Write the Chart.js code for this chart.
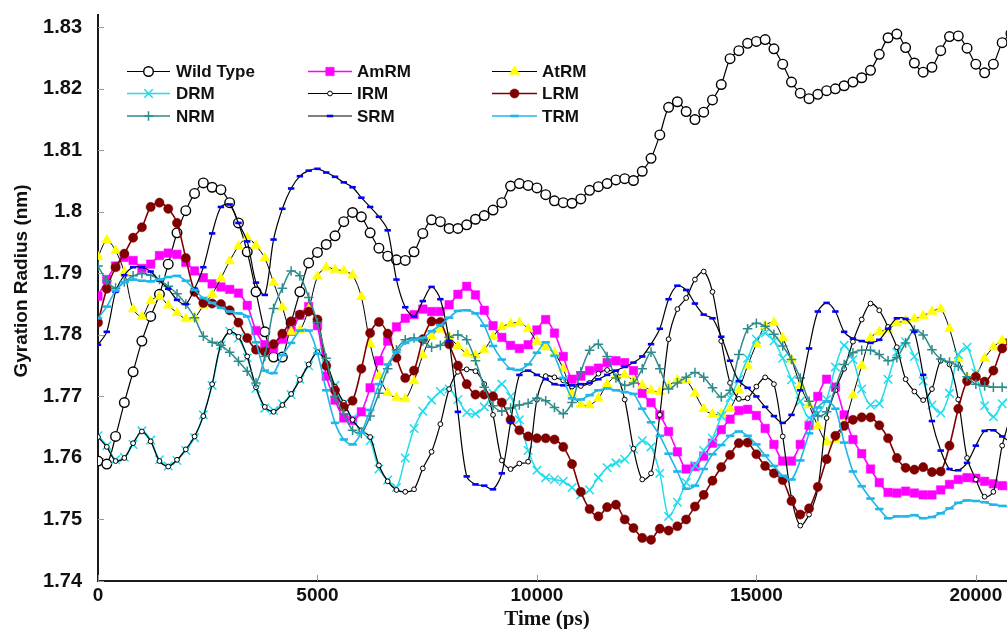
<!DOCTYPE html>
<html>
<head>
<meta charset="utf-8">
<script src="https://cdn.jsdelivr.net/npm/chart.js@4/dist/chart.umd.min.js"></script>
<style>
html,body{margin:0;padding:0;background:#fff;overflow:hidden;}
#wrap{position:relative;width:1007px;height:629px;}
</style>
</head>
<body>
<div id="wrap"><canvas id="c" width="1007" height="629"></canvas></div>
<script>
// ---------------- DATA ----------------
const timePs = [0,200,400,600,800,1000,1200,1400,1600,1800,2000,2200,2400,2600,2800,3000,3200,3400,3600,3800,
4000,4200,4400,4600,4800,5000,5200,5400,5600,5800,6000,6200,6400,6600,6800,7000,7200,7400,7600,7800,
8000,8200,8400,8600,8800,9000,9200,9400,9600,9800,10000,10200,10400,10600,10800,11000,11200,11400,11600,11800,
12000,12200,12400,12600,12800,13000,13200,13400,13600,13800,14000,14200,14400,14600,14800,15000,15200,15400,15600,15800,
16000,16200,16400,16600,16800,17000,17200,17400,17600,17800,18000,18200,18400,18600,18800,19000,19200,19400,19600,19800,
20000,20200,20400,20600,20800];

const seriesNames = ['Wild Type','AmRM','AtRM','DRM','IRM','LRM','NRM','SRM','TRM'];

const wildType = [1.7595,1.759,1.7635,1.769,1.774,1.779,1.783,1.7866,1.7915,1.7966,
1.8002,1.803,1.8047,1.804,1.8036,1.8015,1.7982,1.7935,1.787,1.7805,
1.7764,1.7764,1.782,1.787,1.7917,1.7934,1.7947,1.7961,1.7984,1.7999,
1.7992,1.7966,1.7941,1.7928,1.7922,1.7921,1.7935,1.7965,1.7987,1.7984,
1.7973,1.7973,1.7979,1.7988,1.7994,1.8003,1.8015,1.8042,1.8046,1.8043,
1.8039,1.8028,1.8018,1.8015,1.8014,1.8021,1.8035,1.8041,1.8046,1.8052,
1.8054,1.8051,1.8066,1.8087,1.8125,1.817,1.8179,1.8163,1.815,1.8162,
1.8182,1.8207,1.8249,1.8262,1.8274,1.8277,1.828,1.8265,1.824,1.8211,
1.8193,1.8184,1.8191,1.8197,1.82,1.8205,1.8211,1.8218,1.823,1.8256,
1.8283,1.8289,1.8267,1.8242,1.8227,1.8235,1.8262,1.8285,1.8286,1.8266,
1.824,1.8226,1.824,1.8275,1.829];

const amRM = [1.7863,1.789,1.7912,1.7926,1.7921,1.7908,1.7915,1.7929,1.7933,1.7931,
1.7918,1.7904,1.7893,1.7883,1.7878,1.7874,1.7868,1.7848,1.7807,1.7784,
1.7778,1.7793,1.7806,1.7832,1.7846,1.7815,1.7733,1.7694,1.7665,1.7661,
1.7675,1.7714,1.7758,1.779,1.7813,1.7827,1.7833,1.7842,1.7838,1.7838,
1.7849,1.7866,1.7879,1.7865,1.784,1.7815,1.7796,1.7783,1.7778,1.7784,
1.7808,1.7825,1.7803,1.7765,1.7728,1.7733,1.7742,1.7746,1.7755,1.7758,
1.7755,1.7742,1.7705,1.769,1.767,1.7643,1.761,1.7582,1.7586,1.7603,
1.7624,1.7646,1.7663,1.7677,1.7679,1.7669,1.7648,1.7622,1.7595,1.7595,
1.7622,1.7653,1.77,1.7728,1.7715,1.767,1.763,1.7607,1.7582,1.756,
1.7544,1.7543,1.7546,1.7543,1.754,1.754,1.7548,1.7557,1.7565,1.7568,
1.7567,1.7562,1.7558,1.7555,1.7554];

const atRM = [1.7927,1.7954,1.7937,1.7902,1.7842,1.783,1.7855,1.7862,1.7848,1.7836,
1.7826,1.7828,1.7848,1.7866,1.7892,1.792,1.7944,1.7958,1.7945,1.7925,
1.7885,1.7845,1.7805,1.7808,1.7842,1.7895,1.791,1.7906,1.7904,1.7897,
1.7862,1.7785,1.7734,1.7706,1.7698,1.7696,1.7725,1.7767,1.7798,1.7809,
1.7797,1.7782,1.777,1.7767,1.7776,1.7797,1.7813,1.7818,1.782,1.781,
1.7789,1.778,1.777,1.7745,1.7705,1.7687,1.7686,1.7697,1.772,1.7733,
1.7735,1.7726,1.7718,1.771,1.7708,1.7717,1.7727,1.7726,1.7705,1.768,
1.7671,1.7672,1.768,1.771,1.775,1.7785,1.7815,1.782,1.7795,1.776,
1.7718,1.7686,1.7652,1.7626,1.763,1.7655,1.7702,1.775,1.7795,1.7805,
1.7809,1.7819,1.7823,1.7826,1.7831,1.7838,1.7842,1.781,1.7761,1.7731,
1.7735,1.7762,1.778,1.7791,1.7795];

const dRM = [1.7636,1.762,1.7597,1.7601,1.7622,1.7644,1.7629,1.7597,1.7587,1.7596,
1.7612,1.7633,1.767,1.7718,1.7783,1.7806,1.7795,1.7763,1.7713,1.7681,
1.7677,1.7688,1.7703,1.7728,1.775,1.7773,1.7752,1.7718,1.7688,1.7664,
1.7643,1.7628,1.7582,1.7564,1.7552,1.76,1.7648,1.7676,1.7694,1.7708,
1.7712,1.7695,1.7674,1.7672,1.7683,1.7705,1.772,1.77,1.7662,1.7612,
1.758,1.7568,1.7565,1.7562,1.7552,1.754,1.7548,1.7568,1.7584,1.7592,
1.7598,1.7614,1.7628,1.7618,1.7575,1.7505,1.7528,1.756,1.7588,1.7612,
1.7632,1.7668,1.7698,1.7728,1.7762,1.7793,1.7803,1.779,1.7762,1.7727,
1.7692,1.7665,1.7672,1.7695,1.7748,1.7783,1.776,1.7712,1.7686,1.7688,
1.7728,1.7772,1.7789,1.7765,1.7725,1.7686,1.7673,1.7705,1.7768,1.778,
1.7738,1.7685,1.7667,1.7688,1.7702];

const iRM = [1.7634,1.7618,1.7595,1.76,1.7624,1.7643,1.7627,1.7595,1.7586,1.7597,
1.7614,1.7635,1.7668,1.772,1.7785,1.7805,1.7797,1.7765,1.7715,1.7683,
1.7675,1.7686,1.7704,1.7727,1.7752,1.7772,1.7755,1.7716,1.769,1.7662,
1.7645,1.7634,1.7588,1.7562,1.7548,1.7545,1.7549,1.7583,1.761,1.7655,
1.7712,1.774,1.7744,1.7741,1.772,1.767,1.7596,1.7582,1.7591,1.7594,
1.7695,1.7733,1.7731,1.7726,1.7716,1.7717,1.7722,1.7737,1.7743,1.7737,
1.7695,1.7615,1.7565,1.7575,1.767,1.7793,1.7842,1.786,1.789,1.7903,
1.787,1.779,1.7722,1.7696,1.7697,1.7716,1.7731,1.772,1.7635,1.7535,
1.749,1.7508,1.755,1.7665,1.771,1.7745,1.7789,1.7825,1.7851,1.784,
1.7813,1.778,1.7728,1.7708,1.7694,1.7712,1.7758,1.7752,1.7695,1.76,
1.7565,1.7537,1.7545,1.762,1.767];

const lRM = [1.782,1.7875,1.791,1.7932,1.7958,1.7975,1.8008,1.8015,1.8005,1.7982,
1.7925,1.787,1.7852,1.7851,1.785,1.784,1.782,1.7795,1.7776,1.7773,
1.7785,1.7802,1.7822,1.7833,1.7838,1.7825,1.775,1.771,1.7683,1.7693,
1.7745,1.7803,1.7821,1.7802,1.7763,1.773,1.7742,1.7793,1.7822,1.7821,
1.7785,1.775,1.772,1.7703,1.7703,1.77,1.769,1.7662,1.7645,1.7635,
1.7632,1.7632,1.763,1.7618,1.759,1.7545,1.7517,1.7505,1.752,1.7524,
1.75,1.7486,1.747,1.7467,1.7485,1.7482,1.7489,1.75,1.7521,1.754,
1.7563,1.7585,1.7605,1.7624,1.7625,1.7606,1.7587,1.7575,1.7564,1.753,
1.7508,1.7518,1.7553,1.7598,1.7636,1.7652,1.7662,1.7666,1.7666,1.7653,
1.7632,1.76,1.7584,1.7581,1.7585,1.7577,1.7578,1.762,1.768,1.7725,
1.7732,1.7724,1.7742,1.7778,1.779];

const nRM = [1.7912,1.7888,1.7876,1.7886,1.7896,1.79,1.7897,1.789,1.7879,1.7867,
1.785,1.7828,1.7798,1.7788,1.7783,1.7772,1.7757,1.7741,1.7722,1.7765,
1.7843,1.7876,1.7904,1.7896,1.7861,1.782,1.7762,1.77,1.7672,1.7645,
1.764,1.7668,1.7705,1.7745,1.7776,1.7792,1.7795,1.779,1.778,1.7783,
1.7796,1.78,1.7792,1.7758,1.7715,1.7685,1.7676,1.7681,1.7686,1.7689,
1.7697,1.7693,1.7682,1.7672,1.769,1.774,1.7775,1.7785,1.7765,1.773,
1.7718,1.7722,1.7745,1.7772,1.7745,1.7712,1.7722,1.7731,1.7739,1.7731,
1.7714,1.7699,1.771,1.7768,1.781,1.7819,1.7814,1.7801,1.7782,1.776,
1.773,1.7692,1.7668,1.7675,1.7715,1.7752,1.7771,1.7775,1.7775,1.7768,
1.7758,1.7763,1.7787,1.7808,1.78,1.7776,1.7761,1.7756,1.7749,1.7732,
1.772,1.7717,1.7715,1.7715,1.7714];

const sRM = [1.7784,1.7805,1.787,1.7897,1.791,1.791,1.7903,1.7888,1.7875,1.7857,
1.785,1.7875,1.791,1.7965,1.8008,1.8012,1.7982,1.7952,1.7885,1.7865,
1.7955,1.8005,1.8038,1.8058,1.8067,1.807,1.8064,1.8057,1.8048,1.804,
1.8023,1.8008,1.7992,1.797,1.789,1.7845,1.783,1.7855,1.7878,1.7858,
1.779,1.7675,1.757,1.7557,1.7555,1.7549,1.7575,1.7658,1.7735,1.7742,
1.7735,1.7728,1.772,1.7718,1.7718,1.772,1.7722,1.7728,1.7735,1.7742,
1.7748,1.7755,1.7765,1.7785,1.781,1.7858,1.788,1.7873,1.7851,1.7833,
1.7827,1.7797,1.7758,1.7725,1.7714,1.77,1.7683,1.7668,1.7657,1.767,
1.771,1.7778,1.7838,1.7852,1.7838,1.7805,1.7794,1.779,1.7787,1.7792,
1.781,1.7827,1.7826,1.7805,1.7735,1.766,1.7612,1.7582,1.758,1.7592,
1.762,1.7644,1.7645,1.7635,1.7625];

const tRM = [1.7827,1.7846,1.7872,1.7886,1.789,1.7888,1.7887,1.789,1.7894,1.7896,
1.7888,1.7873,1.786,1.7852,1.7844,1.7838,1.7835,1.783,1.7788,1.7742,
1.7738,1.7767,1.7787,1.7807,1.7807,1.777,1.771,1.7657,1.763,1.7622,
1.7641,1.7678,1.772,1.7752,1.7772,1.7787,1.7792,1.7795,1.7806,1.7816,
1.7828,1.7839,1.784,1.7835,1.7815,1.7782,1.776,1.7745,1.7743,1.7752,
1.7771,1.7788,1.7766,1.773,1.7697,1.7695,1.7702,1.771,1.7713,1.771,
1.7707,1.7704,1.768,1.7658,1.7636,1.7607,1.7578,1.755,1.7555,1.7582,
1.7606,1.7621,1.7636,1.7643,1.7636,1.7622,1.7604,1.7587,1.7571,1.7565,
1.7596,1.764,1.7682,1.7692,1.768,1.7625,1.7578,1.7554,1.7534,1.7517,
1.7502,1.7505,1.7505,1.7507,1.7502,1.7504,1.751,1.7518,1.7527,1.7531,
1.753,1.7528,1.7524,1.7522,1.7521];

const yTickValues = [1.74,1.75,1.76,1.77,1.78,1.79,1.80,1.81,1.82,1.83];
const yTickLabels = ['1.74','1.75','1.76','1.77','1.78','1.79','1.8','1.81','1.82','1.83'];
const xTickValues = [0,5000,10000,15000,20000];
const xTickLabels = ['0','5000','10000','15000','20000'];

// ---------------- STYLES ----------------
const seriesValues = [wildType, amRM, atRM, dRM, iRM, lRM, nRM, sRM, tRM];
const styles = [
  {line:'#000000', lw:1.2, ps:'circle',   r:4.8, bg:'#ffffff', bc:'#000000', bw:1.4},
  {line:'#ff00ff', lw:1.6, ps:'rect',     r:6.0, bg:'#ff00ff', bc:'#ff00ff', bw:0.5},
  {line:'#000000', lw:1.0, ps:'triangle', r:5.8, bg:'#ffff00', bc:'#ffff00', bw:0.5},
  {line:'#22dcec', lw:1.5, ps:'crossRot', r:6.0, bg:'#22dcec', bc:'#22dcec', bw:1.5},
  {line:'#000000', lw:1.2, ps:'circle',   r:2.4, bg:'#ffffff', bc:'#000000', bw:1.0},
  {line:'#800000', lw:1.6, ps:'circle',   r:4.6, bg:'#800000', bc:'#800000', bw:0.5},
  {line:'#2e8b8b', lw:1.5, ps:'cross',    r:4.8, bg:'#2e8b8b', bc:'#2e8b8b', bw:1.5},
  {line:'#000000', lw:1.2, ps:'line',     r:3.2, bg:'#0000ff', bc:'#0000ff', bw:2.6},
  {line:'#1fb6e8', lw:1.6, ps:'line',     r:4.2, bg:'#1fb6e8', bc:'#1fb6e8', bw:2.6}
];

const datasets = seriesNames.map((name, i) => ({
  label: name,
  data: seriesValues[i],
  borderColor: styles[i].line,
  borderWidth: styles[i].lw,
  backgroundColor: styles[i].bg,
  pointStyle: styles[i].ps,
  pointRadius: styles[i].r,
  pointBackgroundColor: styles[i].bg,
  pointBorderColor: styles[i].bc,
  pointBorderWidth: styles[i].bw,
  pointHoverRadius: styles[i].r,
  tension: 0.3,
  fill: false,
  order: seriesNames.length - i
}));

// ---------------- PLUGINS ----------------
function drawMarker(ctx, st, x, y) {
  ctx.save();
  ctx.fillStyle = st.bg; ctx.strokeStyle = st.bc; ctx.lineWidth = st.bw;
  const r = st.r;
  ctx.beginPath();
  if (st.ps === 'circle') { ctx.arc(x, y, r, 0, Math.PI*2); ctx.fill(); ctx.stroke(); }
  else if (st.ps === 'rect') { const s = Math.SQRT1_2*r; ctx.rect(x-s, y-s, 2*s, 2*s); ctx.fill(); ctx.stroke(); }
  else if (st.ps === 'triangle') {
    ctx.moveTo(x, y - r);
    ctx.lineTo(x + 0.866*r, y + 0.5*r);
    ctx.lineTo(x - 0.866*r, y + 0.5*r);
    ctx.closePath(); ctx.fill(); ctx.stroke();
  }
  else if (st.ps === 'crossRot') { const d = r*Math.SQRT1_2; ctx.moveTo(x-d,y-d); ctx.lineTo(x+d,y+d); ctx.moveTo(x+d,y-d); ctx.lineTo(x-d,y+d); ctx.stroke(); }
  else if (st.ps === 'cross') { ctx.moveTo(x-r,y); ctx.lineTo(x+r,y); ctx.moveTo(x,y-r); ctx.lineTo(x,y+r); ctx.stroke(); }
  else if (st.ps === 'line') { ctx.moveTo(x-r,y); ctx.lineTo(x+r,y); ctx.stroke(); }
  ctx.restore();
}

const legendCols = [{x0:127, x1:170, tx:176}, {x0:308, x1:352, tx:357}, {x0:492, x1:537, tx:542}];
const legendRows = [71.5, 93.5, 116];

const customDraw = {
  id: 'customDraw',
  afterLayout(chart) {
    // let the plot run to the right edge of the picture, as in the source figure
    const xs = chart.scales.x, area = chart.chartArea;
    xs.right = chart.width; xs.width = xs.right - xs.left; xs.configure();
    area.right = chart.width; area.width = area.right - area.left;
  },
  beforeDatasetsDraw(chart) {
    const ctx = chart.ctx, a = chart.chartArea;
    const xs = chart.scales.x, ys = chart.scales.y;
    ctx.save();
    ctx.strokeStyle = '#9a9a9a'; ctx.lineWidth = 1;
    ctx.beginPath();
    yTickValues.forEach(v => { const py = Math.round(ys.getPixelForValue(v)) + 0.5; ctx.moveTo(a.left, py); ctx.lineTo(a.left + 6, py); });
    xTickValues.forEach(v => { const px = Math.round(xs.getPixelForValue(v)) + 0.5; ctx.moveTo(px, a.bottom); ctx.lineTo(px, a.bottom - 6); });
    ctx.stroke();
    ctx.restore();
  },
  afterDraw(chart) {
    const ctx = chart.ctx;
    ctx.save();
    seriesNames.forEach((name, i) => {
      const col = legendCols[i % 3], y = legendRows[Math.floor(i / 3)];
      const st = styles[i];
      ctx.strokeStyle = st.line; ctx.lineWidth = st.lw;
      ctx.beginPath(); ctx.moveTo(col.x0, y); ctx.lineTo(col.x1, y); ctx.stroke();
      drawMarker(ctx, st, (col.x0 + col.x1) / 2, y);
      ctx.fillStyle = '#111';
      ctx.font = 'bold 17px "Liberation Sans", Arial, sans-serif';
      ctx.textAlign = 'left'; ctx.textBaseline = 'middle';
      ctx.fillText(name, col.tx, y + 1);
    });
    ctx.fillStyle = '#111';
    ctx.font = 'bold 19px "Liberation Sans", Arial, sans-serif';
    ctx.translate(22, 281); ctx.rotate(-Math.PI / 2);
    ctx.textAlign = 'center'; ctx.textBaseline = 'middle';
    ctx.fillText('Gyration Radius (nm)', 0, 0);
    ctx.setTransform(1, 0, 0, 1, 0, 0);
    ctx.font = 'bold 21px "Liberation Serif", "Times New Roman", serif';
    ctx.textAlign = 'center'; ctx.textBaseline = 'alphabetic';
    ctx.fillText('Time (ps)', 547, 625);
    ctx.restore();
  }
};

// ---------------- CHART ----------------
new Chart(document.getElementById('c'), {
  type: 'line',
  data: { labels: timePs, datasets: datasets },
  options: {
    responsive: false,
    devicePixelRatio: 1,
    animation: false,
    layout: { padding: { top: 15, right: 0, bottom: 0, left: 0 } },
    plugins: { legend: { display: false }, tooltip: { enabled: false } },
    scales: {
      x: {
        type: 'linear', min: 0, max: 20710,
        afterBuildTicks: s => { s.ticks = xTickValues.map(v => ({ value: v })); },
        afterFit: s => { s.height = 48; s.paddingLeft = 0; s.paddingRight = 0; },
        grid: { display: true, drawOnChartArea: false, drawTicks: false },
        border: { display: true, color: '#1a1a1a', width: 2 },
        ticks: {
          autoSkip: false, maxRotation: 0, padding: 3, color: '#111',
          font: { family: '"Liberation Sans", Arial, sans-serif', size: 19, weight: 'bold' },
          callback: v => { const i = xTickValues.indexOf(v); return i >= 0 ? xTickLabels[i] : ''; }
        }
      },
      y: {
        type: 'linear', min: 1.74, max: 1.832,
        afterBuildTicks: s => { s.ticks = yTickValues.map(v => ({ value: v })); },
        afterFit: s => { s.width = 98; s.paddingTop = 0; s.paddingBottom = 0; },
        grid: { display: true, drawOnChartArea: false, drawTicks: false },
        border: { display: true, color: '#1a1a1a', width: 2 },
        ticks: {
          autoSkip: false, padding: 16, color: '#111',
          font: { family: '"Liberation Sans", Arial, sans-serif', size: 20, weight: 'bold' },
          callback: v => { const i = yTickValues.indexOf(v); return i >= 0 ? yTickLabels[i] : ''; }
        }
      }
    }
  },
  plugins: [customDraw]
});
</script>
</body>
</html>
